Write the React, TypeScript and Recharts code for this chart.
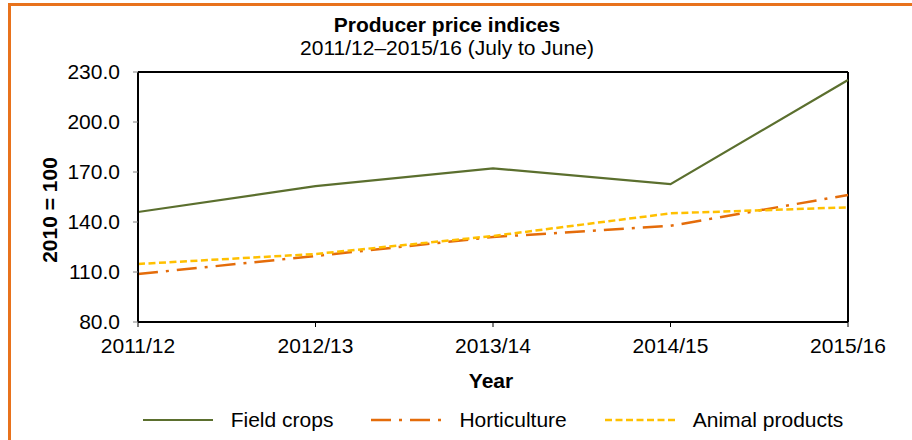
import React from 'react';
import { LineChart, Line, XAxis, YAxis, ReferenceLine, Legend } from 'recharts';

const years = ['2011/12', '2012/13', '2013/14', '2014/15', '2015/16'];
const fieldCrops = [146, 161.5, 172.2, 162.7, 225.2];
const horticulture = [108.8, 119.6, 131, 137.7, 156.2];
const animalProducts = [114.8, 120.8, 131.6, 145.2, 148.8];
const yTicks = [80, 110, 140, 170, 200, 230];

const titleText = 'Producer price indices';
const subtitleText = '2011/12\u20132015/16 (July to June)';
const xTitle = 'Year';
const yTitle = '2010 = 100';

const series = [
  { key: 'fieldCrops', name: 'Field crops', color: '#5B6F2E', dash: undefined as string | undefined, width: 2.2 },
  { key: 'horticulture', name: 'Horticulture', color: '#E46C0A', dash: '20 8 3 8', width: 2.5 },
  { key: 'animalProducts', name: 'Animal products', color: '#FFC000', dash: '7 3.5', width: 2.5 },
];

const data = years.map((y, i) => ({
  year: y,
  fieldCrops: fieldCrops[i],
  horticulture: horticulture[i],
  animalProducts: animalProducts[i],
}));

const FONT = '"Liberation Sans", Arial, sans-serif';

const renderLegend = () => (
  <div
    style={{
      display: 'flex',
      justifyContent: 'center',
      alignItems: 'center',
      gap: 38,
      fontFamily: FONT,
      fontSize: 21,
      color: '#000',
      height: 26,
    }}
  >
    {series.map((s) => (
      <div key={s.key} style={{ display: 'flex', alignItems: 'center' }}>
        <svg width={70} height={6} style={{ display: 'block' }}>
          <line x1={0} y1={3} x2={70} y2={3} stroke={s.color} strokeWidth={s.width} strokeDasharray={s.dash} />
        </svg>
        <span style={{ marginLeft: 18, lineHeight: '26px', whiteSpace: 'nowrap' }}>{s.name}</span>
      </div>
    ))}
  </div>
);

export default function App() {
  return (
    <div
      style={{
        position: 'absolute',
        left: 0,
        top: 0,
        width: 912,
        height: 440,
        background: '#fff',
        overflow: 'hidden',
        fontFamily: FONT,
      }}
    >
      <div
        style={{
          position: 'absolute',
          left: 8,
          top: 3,
          width: 960,
          height: 500,
          border: '3px solid #E8721C',
          boxSizing: 'border-box',
        }}
      />
      <div
        style={{
          position: 'absolute',
          left: 247,
          top: 15,
          width: 400,
          textAlign: 'center',
          fontSize: 21,
          lineHeight: '20px',
          fontWeight: 'bold',
          color: '#000',
        }}
      >
        {titleText}
      </div>
      <div
        style={{
          position: 'absolute',
          left: 247,
          top: 38,
          width: 400,
          textAlign: 'center',
          fontSize: 21,
          lineHeight: '20px',
          color: '#000',
        }}
      >
        {subtitleText}
      </div>
      <div style={{ position: 'absolute', left: 0, top: 0 }}>
        <LineChart
          width={912}
          height={440}
          data={data}
          margin={{ top: 72, right: 64, bottom: 88, left: 0 }}
        >
          <XAxis
            dataKey="year"
            height={30}
            axisLine={{ stroke: '#000', strokeWidth: 2 }}
            tickLine={{ stroke: '#000' }}
            tickSize={5}
            tickMargin={11}
            tick={{ fill: '#000', fontSize: 21, fontFamily: FONT }}
            interval={0}
          />
          <YAxis
            width={138}
            domain={[80, 230]}
            ticks={yTicks}
            type="number"
            allowDataOverflow
            axisLine={{ stroke: '#000', strokeWidth: 2 }}
            tickLine={{ stroke: '#808080' }}
            tickSize={5}
            tickMargin={13}
            tick={{ fill: '#000', fontSize: 21, fontFamily: FONT }}
            tickFormatter={(v: number) => v.toFixed(1)}
          />
          <ReferenceLine y={230} stroke="#000" strokeWidth={2} ifOverflow="extendDomain" />
          <ReferenceLine x="2015/16" stroke="#000" strokeWidth={2} />
          {series.map((s) => (
            <Line
              key={s.key}
              type="linear"
              dataKey={s.key}
              name={s.name}
              stroke={s.color}
              strokeWidth={s.width}
              strokeDasharray={s.dash}
              dot={false}
              activeDot={false}
              isAnimationActive={false}
            />
          ))}
          <Legend
            verticalAlign="middle"
            align="center"
            layout="horizontal"
            content={renderLegend}
            wrapperStyle={{ left: 138, top: 407, width: 710, height: 26 }}
          />
        </LineChart>
      </div>
      <div
        style={{
          position: 'absolute',
          left: 391,
          top: 369,
          width: 200,
          textAlign: 'center',
          fontSize: 21,
          lineHeight: '24px',
          fontWeight: 'bold',
          color: '#000',
        }}
      >
        {xTitle}
      </div>
      <div
        style={{
          position: 'absolute',
          left: 50 - 100,
          top: 210 - 12,
          width: 200,
          height: 24,
          textAlign: 'center',
          fontSize: 21,
          lineHeight: '24px',
          fontWeight: 'bold',
          color: '#000',
          transform: 'rotate(-90deg)',
          whiteSpace: 'nowrap',
        }}
      >
        {yTitle}
      </div>
    </div>
  );
}
